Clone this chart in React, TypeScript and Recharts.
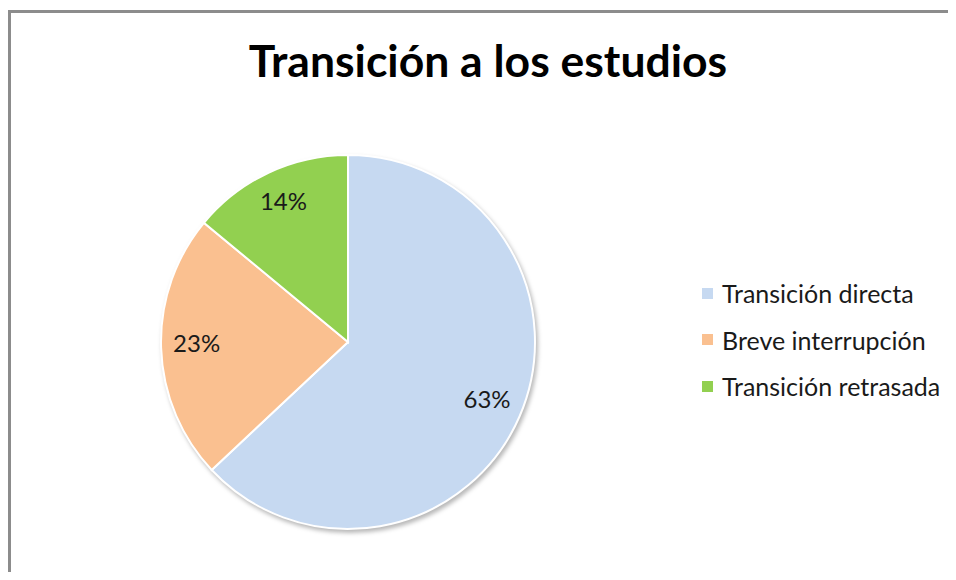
import { Cell, Legend, Pie, PieChart } from "recharts";

const categorias = ["Transición directa", "Breve interrupción", "Transición retrasada"];
const porcentajes = [63, 23, 14];
const colores = ["#C6D9F1", "#FAC090", "#92D050"];

const data = categorias.map((name, i) => ({ name, value: porcentajes[i] }));

const RAD = Math.PI / 180;
const FONT = "Lato, 'Open Sans', sans-serif";

function renderLabel(props: any) {
  const { cx, cy, midAngle, outerRadius, value } = props;
  const r = outerRadius * 0.81;
  const x = cx + r * Math.cos(-midAngle * RAD);
  const y = cy + r * Math.sin(-midAngle * RAD) - 4;
  return (
    <text
      x={x}
      y={y}
      textAnchor="middle"
      dominantBaseline="central"
      fill="#1a1a1a"
      fontSize={24}
      fontFamily={FONT}
    >
      {`${value}%`}
    </text>
  );
}

function Leyenda() {
  return (
    <div style={{ fontFamily: FONT, fontSize: 25, color: "#1a1a1a" }}>
      {categorias.map((c, i) => (
        <div key={c} style={{ display: "flex", alignItems: "center", height: 46.5, whiteSpace: "nowrap" }}>
          <span
            style={{
              width: 11,
              height: 11,
              background: colores[i],
              marginRight: 9,
              display: "inline-block",
            }}
          />
          <span>{c}</span>
        </div>
      ))}
    </div>
  );
}

export default function App() {
  return (
    <div style={{ position: "relative", margin: -8, width: 956, height: 580, overflow: "hidden", background: "#fff" }}>
      <style>{`
        html, body { overflow: hidden; }
        .recharts-pie { filter: drop-shadow(2px 3px 2px rgba(0,0,0,0.28)); }
      `}</style>
      <div
        style={{
          position: "absolute",
          top: 10,
          left: 8,
          width: 1200,
          height: 1200,
          borderTop: "3px solid #8c8c8c",
          borderLeft: "3px solid #8c8c8c",
        }}
      />
      <div
        style={{
          position: "absolute",
          top: 38,
          left: 0,
          width: 976,
          textAlign: "center",
          fontFamily: FONT,
          fontWeight: 700,
          fontSize: 44.5,
          lineHeight: 1,
          color: "#000",
        }}
      >
        Transición a los estudios
      </div>
      <PieChart width={956} height={580} style={{ position: "absolute", top: 0, left: 0 }}>
        <Pie
          data={data}
          dataKey="value"
          nameKey="name"
          cx={343}
          cy={337}
          outerRadius={187}
          startAngle={90}
          endAngle={-270}
          stroke="#fff"
          strokeWidth={2}
          label={renderLabel}
          labelLine={false}
          isAnimationActive={false}
        >
          {data.map((d, i) => (
            <Cell key={d.name} fill={colores[i]} />
          ))}
        </Pie>
        <Legend
          layout="vertical"
          align="right"
          verticalAlign="middle"
          content={() => <Leyenda />}
          wrapperStyle={{ left: 702, top: 270, width: 254 }}
        />
      </PieChart>
    </div>
  );
}
